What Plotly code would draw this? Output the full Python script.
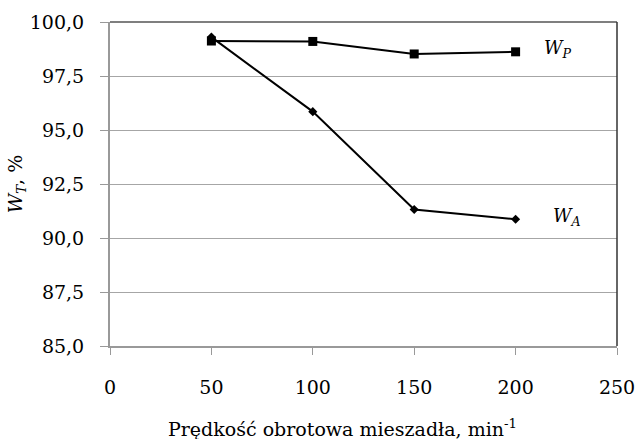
import plotly.graph_objects as go

speed = [50, 100, 150, 200]
wp = [99.12, 99.1, 98.52, 98.62]
wa = [99.3, 95.85, 91.32, 90.87]

y_ticks = [85.0, 87.5, 90.0, 92.5, 95.0, 97.5, 100.0]
y_tick_labels = ["85,0", "87,5", "90,0", "92,5", "95,0", "97,5", "100,0"]
x_ticks = [0, 50, 100, 150, 200, 250]

FONT = "DejaVu Serif"

fig = go.Figure()
fig.add_trace(go.Scatter(x=speed, y=wa, mode="lines+markers",
                         line=dict(color="black", width=2),
                         marker=dict(symbol="diamond", size=7, color="black"),
                         showlegend=False, yaxis="y"))
fig.add_trace(go.Scatter(x=speed, y=wp, mode="lines+markers",
                         line=dict(color="black", width=2),
                         marker=dict(symbol="square", size=9, color="black"),
                         showlegend=False, yaxis="y2"))

fig.add_annotation(x=213, y=98.75, text="<i>W</i><sub><i>P</i></sub>", showarrow=False,
                   font=dict(family=FONT, size=18, color="black"), xanchor="left")
fig.add_annotation(x=217.5, y=90.95, text="<i>W</i><sub><i>A</i></sub>", showarrow=False,
                   font=dict(family=FONT, size=18, color="black"), xanchor="left")
# x-axis title (centred slightly left of plot centre, as in the reference)
fig.add_annotation(xref="paper", yref="paper", x=0.4576, y=0, yshift=-82,
                   xanchor="center", yanchor="middle", showarrow=False,
                   text="Prędkość obrotowa mieszadła, min<sup>-1</sup>",
                   font=dict(family=FONT, size=19, color="black"))

fig.update_layout(
    width=637, height=439,
    margin=dict(l=110, r=20, t=22, b=93),
    paper_bgcolor="white", plot_bgcolor="white",
    font=dict(family=FONT, size=19, color="black"),
    xaxis=dict(range=[0, 250], tickvals=x_ticks, showgrid=False, automargin=False,
               showline=True, linecolor="#999999", linewidth=1.5, mirror=False,
               ticks="outside", ticklen=7, tickcolor="#999999", ticklabelstandoff=16,
               zeroline=False, tickfont=dict(family=FONT, size=19)),
    yaxis=dict(range=[85, 100], tickvals=y_ticks, showticklabels=False, automargin=False,
               showgrid=True, gridcolor="#a6a6a6", gridwidth=1,
               showline=True, linecolor="#999999", linewidth=1.5,
               ticks="outside", ticklen=8, tickcolor="#999999", zeroline=False),
    yaxis2=dict(range=[85, 100], tickvals=y_ticks, ticktext=y_tick_labels, automargin=False,
                overlaying="y", side="left", showgrid=False, showline=False, zeroline=False,
                ticks="outside", ticklen=21, tickcolor="rgba(0,0,0,0)",
                tickfont=dict(family=FONT, size=19),
                title=dict(text="<i>W</i><sub><i>T</i></sub>, %",
                           font=dict(family=FONT, size=19), standoff=2)),
)
# top and right border of plot area
fig.add_shape(type="line", xref="paper", yref="paper", x0=0, x1=1, y0=1, y1=1,
              line=dict(color="#555555", width=1.5))
fig.add_shape(type="line", xref="paper", yref="paper", x0=1, x1=1, y0=0, y1=1,
              line=dict(color="#333333", width=1.5))

fig.write_html("out.html", config={"displayModeBar": False},
               post_script="document.body.style.margin='0';document.body.style.overflow='hidden';")
